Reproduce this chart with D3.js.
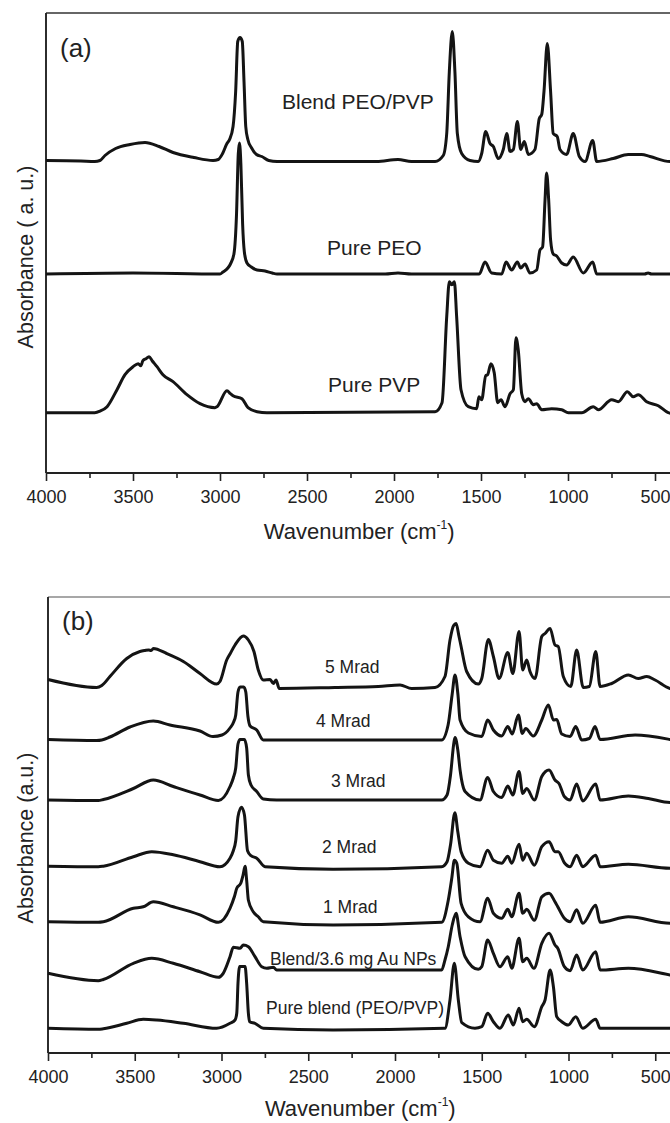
<!DOCTYPE html>
<html>
<head>
<meta charset="UTF-8">
<style>
  body { margin: 0; background: #fff; }
  svg { display: block; font-family: "Liberation Sans", Arial, sans-serif; }
</style>
</head>
<body>
<svg id="chart"></svg>
<script src="https://d3js.org/d3.v7.min.js"></script>
<script>
// spectra as [wavenumber (cm-1), absorbance above own baseline (a.u.)]

// ---- panel (a)
const blendPEOPVP = [
  [4000,0.1],[3800,0.05],[3720,0],[3690,0.1],[3661,0.6],[3600,1.3],[3517,1.7],[3431,1.9],[3350,1.5],[3270,0.9],[3150,0.4],
  [3040,0.1],[3010,0.2],[2985,0.8],[2960,1.8],[2945,2.2],[2925,3.5],[2910,7],[2898,12],[2885,12.4],[2872,12],
  [2862,8],[2852,3.5],[2840,2.2],[2820,1.4],[2790,0.7],[2760,0.5],[2720,0.1],[2672,0],[2100,0],[1977,0.2],
  [1900,0],[1764,0],[1717,0.6],[1697,2.8],[1682,9],[1665,13],[1650,9],[1636,2.8],[1611,0.8],[1563,0.1],
  [1516,0],[1496,0.8],[1473,3.0],[1448,1.8],[1429,1.5],[1401,0.3],[1372,1.2],[1352,2.8],[1333,1.0],[1314,1.2],
  [1291,4.0],[1272,1.2],[1251,2.0],[1228,0.7],[1190,1.2],[1165,4.3],[1151,4.7],[1138,7],[1119,11.8],[1100,7],
  [1085,2.8],[1062,2.5],[1046,1.2],[1008,0.7],[970,2.8],[935,0.5],[902,0],[858,2.1],[835,0],[740,0.3],
  [654,0.7],[577,0.7],[529,0.5],[414,0],[400,0]
];
const purePEO = [
  [4000,0],[3500,0.1],[3000,0],[2983,0.2],[2955,0.6],[2940,1.0],[2920,2],[2905,6],[2895,12],[2888,13.1],
  [2880,11],[2870,5],[2860,2.2],[2845,1.1],[2820,0.7],[2787,0.4],[2741,0.3],[2700,0.1],[2672,0],[2050,0],
  [1977,0.1],[1900,0],[1510,0],[1477,1.2],[1439,0.1],[1381,0],[1356,1.2],[1324,0.4],[1291,1.2],[1272,0.6],
  [1247,1.0],[1219,0.1],[1180,0.4],[1161,2.4],[1146,2.7],[1132,7.4],[1123,10.1],[1111,7.4],[1100,3.4],[1085,2.0],
  [1065,1.8],[1036,1.1],[1008,0.9],[970,1.7],[912,0.1],[858,1.2],[835,0],[560,0],[540,0.1],[520,0],[400,0]
];
const purePVP = [
  [4000,0],[3720,0],[3690,0.15],[3649,0.6],[3592,2.3],[3546,3.8],[3500,4.6],[3470,4.9],[3455,4.7],[3443,5.2],[3425,5.4],
  [3408,5.6],[3390,5.2],[3362,4.6],[3328,3.8],[3270,3.1],[3190,1.8],[3115,0.9],[3029,0.5],[3017,0.6],[2960,2.2],
  [2940,1.9],[2925,1.7],[2874,1.4],[2839,0.5],[2787,0.1],[2730,0],[1764,0.1],[1724,1.0],[1697,9.6],[1682,13.1],
  [1668,12.8],[1653,13.1],[1640,9.6],[1615,2.3],[1573,0.6],[1525,0.4],[1512,1.6],[1496,1.3],[1473,3.7],[1462,3.8],
  [1443,4.9],[1424,4.0],[1404,1.0],[1385,1.3],[1362,0.6],[1333,1.9],[1314,2.3],[1299,7.5],[1286,6.3],[1266,1.9],
  [1247,1.1],[1228,1.4],[1199,0.8],[1180,0.9],[1151,0.3],[1094,0.4],[1036,0.3],[998,0],[921,0],[855,0.6],
  [826,0.3],[749,1.3],[711,1.1],[659,2.1],[625,1.6],[596,1.8],[548,1.1],[481,0.7],[424,0],[400,-0.1]
];
const namesA = ["Blend PEO/PVP", "Pure PEO", "Pure PVP"];
const offsetsA = [31.15, 19.9, 6.03];

// ---- panel (b)
const mrad5 = [
  [4000,0.8],[3720,0],[3690,0.2],[3643,1.1],[3546,2.9],[3470,3.6],[3441,3.7],[3420,3.75],[3405,3.7],[3393,3.9],[3316,3.4],
  [3220,2.6],[3124,1.4],[3028,0.35],[3009,0.6],[2970,2.75],[2951,3.35],[2922,4.25],[2874,5.15],[2845,4.75],[2813,3.6],
  [2788,1.75],[2759,0.75],[2720,0.8],[2701,0.4],[2686,0.75],[2667,-0.1],[2346,0],[2096,0.1],[1971,0.25],[1904,-0.1],
  [1769,0],[1712,1.1],[1683,4.75],[1662,6.2],[1648,6.4],[1631,5.1],[1619,4.1],[1587,1.6],[1520,0.35],[1500,0.9],
  [1462,4.8],[1433,3.1],[1400,0.9],[1350,3.5],[1321,1.4],[1285,5.6],[1264,1.75],[1241,2.75],[1222,1.6],[1193,0.9],
  [1154,5.1],[1135,5.4],[1106,5.9],[1078,4.25],[1059,4.1],[1030,1.1],[987,0.1],[953,3.75],[915,0],[880,0.1],
  [843,3.6],[818,0.1],[751,0.4],[655,1.25],[598,0.9],[549,1.1],[501,0.75],[415,-0.1],[400,-0.15]
];
const mrad4 = [
  [4000,0.05],[3720,-0.05],[3690,0],[3643,0.3],[3527,1.3],[3393,1.9],[3297,1.5],[3124,0.9],[3049,0.35],[2997,0.5],[2951,1.2],
  [2930,1.8],[2918,2.5],[2905,4.8],[2893,5.3],[2872,5.3],[2860,4.8],[2848,2.4],[2835,1.4],[2797,1.0],[2759,0],
  [1731,0],[1694,1.5],[1671,4.5],[1654,6.5],[1637,4.5],[1625,2.0],[1577,0.7],[1500,0.35],[1466,2.0],[1433,1.0],
  [1385,0.4],[1350,1.35],[1324,0.6],[1289,2.5],[1266,0.65],[1247,1.15],[1203,0.4],[1154,2.0],[1116,3.5],[1087,2.0],
  [1068,2.05],[1039,0.6],[991,0.35],[958,1.35],[924,0],[880,0.15],[847,1.35],[818,0.05],[616,0.5],[415,0.05],[400,0]
];
const mrad3 = [
  [4000,0],[3710,-0.05],[3681,0.05],[3508,1.15],[3393,2.0],[3278,1.35],[3124,0.5],[3018,-0.05],[2951,1.35],[2932,2.2],[2918,3.2],
  [2905,5.6],[2893,6.05],[2868,6.05],[2855,5.2],[2845,2.5],[2830,1.5],[2797,0.85],[2759,0.1],[2682,0],[1731,0],
  [1700,0.5],[1680,2.5],[1660,5.8],[1654,6.25],[1638,5],[1625,3.0],[1596,0.85],[1510,0],[1466,2.25],[1433,0.85],
  [1385,0.25],[1350,1.4],[1321,0.5],[1285,2.85],[1264,0.65],[1241,1.15],[1197,0],[1154,2.35],[1112,3.0],[1078,2.0],
  [1055,1.65],[1024,0.35],[991,0],[953,1.6],[918,-0.1],[843,1.6],[818,0],[655,0.4],[540,0.15],[415,-0.25],[400,-0.25]
];
const mrad2 = [
  [4000,0.05],[3710,0],[3681,0.05],[3508,1.0],[3402,1.5],[3278,1.2],[3124,0.5],[3009,0],[2951,0.85],[2932,1.6],[2918,2.6],
  [2905,5.0],[2885,5.95],[2868,5.2],[2850,1.6],[2830,1.1],[2797,0.85],[2749,0],[2357,-0.25],[1731,0],[1700,0.5],
  [1680,2.2],[1655,5.4],[1638,3.5],[1619,1.5],[1577,0.35],[1510,0],[1466,1.65],[1433,0.65],[1385,0.35],[1350,1.05],
  [1327,0.35],[1285,2.25],[1264,0.65],[1241,1.35],[1197,0.15],[1154,2.0],[1112,2.5],[1078,1.5],[1059,1.5],[1024,0.4],
  [991,0],[953,1.15],[918,0],[843,1.15],[818,0],[655,0.25],[415,-0.15],[400,-0.15]
];
const mrad1 = [
  [4000,0.05],[3710,0],[3681,0.05],[3508,1.4],[3451,1.55],[3393,2.05],[3278,1.55],[3124,0.75],[3018,0],[2951,1.4],[2925,2.6],
  [2912,3.4],[2889,3.9],[2876,4.7],[2864,5.6],[2855,4.2],[2845,2.2],[2817,1.05],[2788,0.55],[2759,0.05],[2357,-0.27],
  [1731,0],[1693,2.2],[1672,4.5],[1658,6.2],[1644,5.9],[1619,1.9],[1577,0.55],[1510,0.05],[1466,2.4],[1433,0.9],
  [1385,0.4],[1350,1.3],[1327,0.55],[1285,2.9],[1264,0.9],[1241,1.3],[1197,0.2],[1154,2.55],[1112,2.9],[1078,2.05],
  [1062,1.55],[1024,0.4],[991,0.05],[953,1.25],[918,-0.1],[843,1.7],[818,0],[655,0.55],[415,-0.1],[400,-0.1]
];
const blendAuNPs = [
  [4000,-0.33],[3710,-1.07],[3681,-0.95],[3508,0.67],[3402,1.17],[3278,0.67],[3124,-0.17],[3018,-0.73],[2990,-0.33],[2951,1.33],[2932,2.27],
  [2893,2.17],[2874,2.5],[2845,2.33],[2807,1.33],[2768,0.33],[2739,0.17],[2701,0.27],[2682,0],[2357,0],[1731,0],
  [1712,1.0],[1693,2.33],[1670,4.5],[1648,5.67],[1625,3.33],[1596,1.33],[1520,0.07],[1500,0.33],[1466,3.0],[1433,1.67],
  [1395,0.33],[1350,1.33],[1327,0.17],[1285,3.17],[1264,0.83],[1241,1.17],[1199,0.17],[1154,2.67],[1112,3.67],[1078,2.5],
  [1062,2.17],[1024,0.33],[991,-0.07],[953,1.5],[918,0],[843,1.83],[818,0],[655,0.17],[415,-0.5],[400,-0.55]
];
const pureBlend = [
  [4000,0],[3710,-0.1],[3681,-0.05],[3546,0.5],[3451,0.9],[3373,0.83],[3220,0.5],[3028,0],[2951,0.5],[2922,0.83],[2912,1.5],
  [2905,4.5],[2895,6.17],[2864,6.17],[2855,4.5],[2845,1.5],[2838,0.66],[2807,0.5],[2759,0],[2357,-0.17],[1712,0],
  [1683,2.83],[1658,6.5],[1635,2.83],[1615,0.56],[1539,0],[1500,0.16],[1466,1.5],[1433,0.66],[1395,0],[1347,1.33],
  [1318,0.33],[1285,2.0],[1264,0.66],[1241,0.9],[1197,0.16],[1154,2.16],[1135,2.83],[1106,5.83],[1087,4.16],[1068,1.16],
  [1039,0.66],[1001,0.33],[958,1.16],[918,0],[843,0.9],[818,0],[415,0],[400,0]
];
const namesB = ["5 Mrad", "4 Mrad", "3 Mrad", "2 Mrad", "1 Mrad", "Blend/3.6 mg Au NPs", "Pure blend (PEO/PVP)"];
const offsetsB = [36.55, 31.3, 25.3, 18.63, 13.07, 8.3, 2.47];

const majorTicks = [4000, 3500, 3000, 2500, 2000, 1500, 1000, 500];
const minorTicks = [3750, 3250, 2750, 2250, 1750, 1250, 750];

const width = 670, height = 1123;
const svg = d3.select("#chart").attr("width", width).attr("height", height);

function drawPanel(p) {
  let x = d3.scaleLinear().domain([4000, 400]).range([p.left, p.right]);
  let y = d3.scaleLinear().domain([0, p.yMax]).range([p.bottom, p.top]);
  let g = svg.append("g");

  // frame
  g.append("line").attr("x1", p.left).attr("x2", p.right + 5).attr("y1", p.top).attr("y2", p.top)
    .attr("stroke", p.topColor).attr("stroke-width", 1.4);
  g.append("line").attr("x1", p.left).attr("x2", p.left).attr("y1", p.top).attr("y2", p.bottom)
    .attr("stroke", "#222").attr("stroke-width", 1.9);
  g.append("line").attr("x1", p.left).attr("x2", p.right + 5).attr("y1", p.bottom).attr("y2", p.bottom)
    .attr("stroke", "#222").attr("stroke-width", 1.9);

  // ticks
  let major = g.append("g").attr("transform", `translate(0,${p.bottom})`)
    .call(d3.axisBottom(x).tickValues(majorTicks).tickSize(8).tickSizeOuter(0).tickFormat(d3.format("d")));
  let minor = g.append("g").attr("transform", `translate(0,${p.bottom})`)
    .call(d3.axisBottom(x).tickValues(minorTicks).tickSize(5).tickSizeOuter(0).tickFormat(""));
  [major, minor].forEach(a => {
    a.select(".domain").remove();
    a.selectAll(".tick line").attr("stroke", "#222").attr("stroke-width", 1.6);
  });
  major.selectAll(".tick text")
    .attr("y", 30).attr("dy", null)
    .attr("fill", "#222")
    .style("font-size", "18px")
    .style("font-family", "'Liberation Sans', Arial, sans-serif");

  // spectra
  let line = d3.line()
    .x(d => x(d[0]))
    .y(d => y(d[1]))
    .curve(d3.curveMonotoneX);

  g.selectAll("path.spec")
    .data(p.series)
    .enter()
    .append("path")
    .attr("class", "spec")
    .attr("d", (s, i) => line(s.map(d => [d[0], d[1] + p.offsets[i]])))
    .attr("fill", "none")
    .attr("stroke", "#141414")
    .attr("stroke-width", 3)
    .attr("stroke-linejoin", "round");

  // trace labels
  g.selectAll("text.lbl")
    .data(p.names)
    .enter()
    .append("text")
    .attr("class", "lbl")
    .attr("x", (d, i) => p.labelPos[i][0])
    .attr("y", (d, i) => p.labelPos[i][1])
    .attr("fill", "#222")
    .style("font-size", p.labelSize + "px")
    .text(d => d);

  // panel letter
  g.append("text").attr("x", p.left + 14).attr("y", p.letterY)
    .attr("fill", "#222").style("font-size", "26px").text(p.letter);

  // axis titles
  let xt = g.append("text")
    .attr("x", (p.left + p.right) / 2).attr("y", p.xTitleY)
    .attr("text-anchor", "middle").attr("fill", "#222").style("font-size", "22px");
  xt.append("tspan").text("Wavenumber (cm");
  xt.append("tspan").attr("dy", -10).style("font-size", "12px").text("-1");
  xt.append("tspan").attr("dy", 10).text(")");

  g.append("text")
    .attr("transform", `translate(33,${p.yTitleY}) rotate(-90)`)
    .attr("text-anchor", "middle").attr("fill", "#222").style("font-size", "21.5px")
    .text(p.yTitle);
}

drawPanel({
  left: 46, right: 672.4, top: 13, bottom: 473, yMax: 46,
  topColor: "#333",
  series: [blendPEOPVP, purePEO, purePVP],
  offsets: offsetsA,
  names: namesA,
  labelPos: [[282, 109], [327, 255], [328, 392]],
  labelSize: 21,
  letter: "(a)", letterY: 57,
  xTitleY: 539, yTitleY: 257,
  yTitle: "Absorbance ( a. u.)"
});

drawPanel({
  left: 48, right: 672.6, top: 597, bottom: 1053, yMax: 45.6,
  topColor: "#8a8a8a",
  series: [mrad5, mrad4, mrad3, mrad2, mrad1, blendAuNPs, pureBlend],
  offsets: offsetsB,
  names: namesB,
  labelPos: [[325, 673], [316, 727], [331, 787], [322, 853], [323, 913], [270, 965], [266, 1014]],
  labelSize: 17.5,
  letter: "(b)", letterY: 630,
  xTitleY: 1116, yTitleY: 838,
  yTitle: "Absorbance (a.u.)"
});
</script>
</body>
</html>
